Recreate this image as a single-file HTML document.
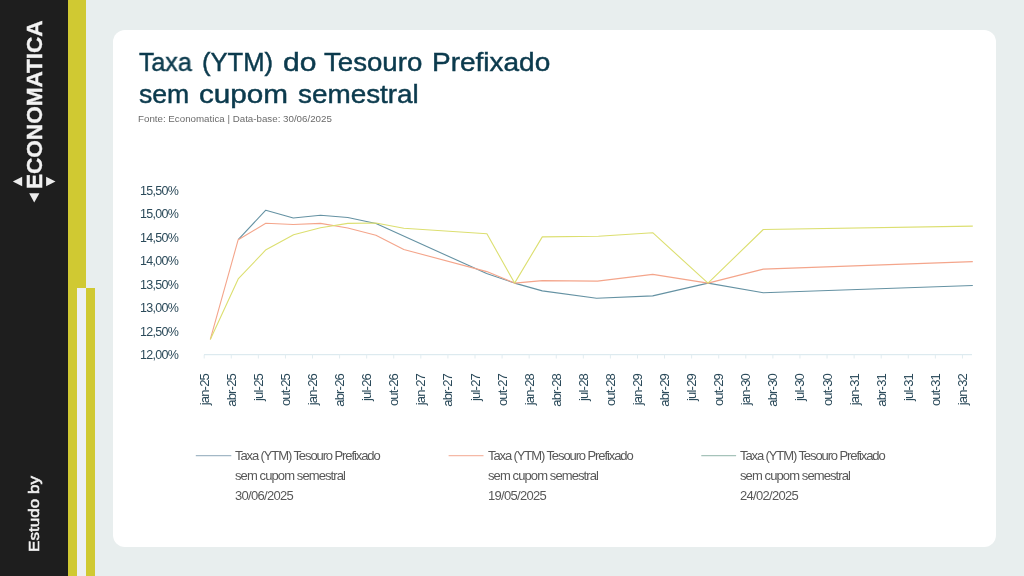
<!DOCTYPE html>
<html><head><meta charset="utf-8">
<style>
html,body{margin:0;padding:0;}
body{width:1024px;height:576px;overflow:hidden;background:#e8eeee;position:relative;font-family:"Liberation Sans",sans-serif;}
.abs{position:absolute;}
#side{left:0;top:0;width:68px;height:576px;background:#1e1e1e;}
.y{background:#d0c932;}
#card{left:112.7px;top:29.7px;width:883.6px;height:517.5px;background:#fff;border-radius:12px;}
.tw{will-change:transform;transform-origin:0 0;color:#0b3a4d;font-size:25.2px;letter-spacing:0px;white-space:nowrap;line-height:1;-webkit-text-stroke:0.45px #0b3a4d;}
#src{will-change:transform;color:#6b6b6b;font-size:9.75px;letter-spacing:0px;white-space:nowrap;line-height:1;}
.yl{will-change:transform;color:#2b4a5a;font-size:12.5px;letter-spacing:-0.7px;white-space:nowrap;line-height:1;left:139.6px;}
.xl{will-change:transform;width:60px;text-align:right;color:#2b4a5a;font-size:13px;letter-spacing:-0.8px;white-space:nowrap;line-height:1;transform-origin:0 0;transform:rotate(-90deg);}
.lg{will-change:transform;color:#585858;font-size:13px;letter-spacing:-0.7px;white-space:nowrap;line-height:20px;}
.rot{will-change:transform;transform-origin:0 0;transform:rotate(-90deg);white-space:nowrap;line-height:1;color:#f2f2f2;}
</style></head><body>
<div id="side" class="abs"></div>
<div class="abs y" style="left:68px;top:0;width:18.3px;height:288px"></div>
<div class="abs y" style="left:68px;top:288px;width:9.4px;height:288px"></div>
<div class="abs y" style="left:86.3px;top:288px;width:8.8px;height:288px"></div>
<div class="abs" style="left:77.4px;top:288px;width:8.9px;height:288px;background:#edf0f2"></div>
<div id="card" class="abs"></div>

<div id="logo" class="abs rot" style="left:23.3px;top:189px;font-weight:bold;-webkit-text-stroke:0.3px #f2f2f2;font-size:22.7px;letter-spacing:-0.1px;">ECONOMATICA</div>
<svg class="abs" style="left:0;top:0" width="68" height="576">
<polygon points="12.8,181.5 22.2,176.8 22.2,186.3" fill="#ececec"/>
<polygon points="55.5,181.5 46.1,176.8 46.1,186.3" fill="#ececec"/>
<polygon points="34.2,202.6 29.2,193.2 39.4,193.2" fill="#ececec"/>
</svg>
<div id="estudo" class="abs rot" style="transform:rotate(-90deg) scaleX(1.116);-webkit-text-stroke:0.5px #f2f2f2;left:25.8px;top:552.0px;font-size:15.3px;letter-spacing:0px;">Estudo by</div>

<div class="abs tw" style="left:138.90px;top:49.6px;transform:scaleX(0.9907)">Taxa</div>
<div class="abs tw" style="left:202.08px;top:49.6px;transform:scaleX(1.0162)">(YTM)</div>
<div class="abs tw" style="left:282.50px;top:49.6px;transform:scaleX(1.1929)">do</div>
<div class="abs tw" style="left:324.00px;top:49.6px;transform:scaleX(1.0966)">Tesouro</div>
<div class="abs tw" style="left:432.19px;top:49.6px;transform:scaleX(1.1114)">Prefixado</div>
<div class="abs tw" style="left:138.60px;top:81.8px;transform:scaleX(1.0553)">sem</div>
<div class="abs tw" style="left:198.92px;top:81.8px;transform:scaleX(1.1784)">cupom</div>
<div class="abs tw" style="left:298.10px;top:81.8px;transform:scaleX(1.1065)">semestral</div>
<div id="src" class="abs" style="left:137.8px;top:114px;">Fonte: Economatica | Data-base: 30/06/2025</div>

<div class="abs yl" style="top:184.50px">15,50%</div>
<div class="abs yl" style="top:207.50px">15,00%</div>
<div class="abs yl" style="top:231.50px">14,50%</div>
<div class="abs yl" style="top:254.50px">14,00%</div>
<div class="abs yl" style="top:278.50px">13,50%</div>
<div class="abs yl" style="top:301.50px">13,00%</div>
<div class="abs yl" style="top:325.50px">12,50%</div>
<div class="abs yl" style="top:348.50px">12,00%</div>
<div class="abs xl" style="left:197.70px;top:434.2px">jan-25</div>
<div class="abs xl" style="left:224.78px;top:434.2px">abr-25</div>
<div class="abs xl" style="left:251.86px;top:434.2px">jul-25</div>
<div class="abs xl" style="left:278.94px;top:434.2px">out-25</div>
<div class="abs xl" style="left:306.02px;top:434.2px">jan-26</div>
<div class="abs xl" style="left:333.10px;top:434.2px">abr-26</div>
<div class="abs xl" style="left:360.18px;top:434.2px">jul-26</div>
<div class="abs xl" style="left:387.26px;top:434.2px">out-26</div>
<div class="abs xl" style="left:414.34px;top:434.2px">jan-27</div>
<div class="abs xl" style="left:441.42px;top:434.2px">abr-27</div>
<div class="abs xl" style="left:468.50px;top:434.2px">jul-27</div>
<div class="abs xl" style="left:495.58px;top:434.2px">out-27</div>
<div class="abs xl" style="left:522.66px;top:434.2px">jan-28</div>
<div class="abs xl" style="left:549.74px;top:434.2px">abr-28</div>
<div class="abs xl" style="left:576.82px;top:434.2px">jul-28</div>
<div class="abs xl" style="left:603.90px;top:434.2px">out-28</div>
<div class="abs xl" style="left:630.98px;top:434.2px">jan-29</div>
<div class="abs xl" style="left:658.06px;top:434.2px">abr-29</div>
<div class="abs xl" style="left:685.14px;top:434.2px">jul-29</div>
<div class="abs xl" style="left:712.22px;top:434.2px">out-29</div>
<div class="abs xl" style="left:739.30px;top:434.2px">jan-30</div>
<div class="abs xl" style="left:766.38px;top:434.2px">abr-30</div>
<div class="abs xl" style="left:793.46px;top:434.2px">jul-30</div>
<div class="abs xl" style="left:820.54px;top:434.2px">out-30</div>
<div class="abs xl" style="left:847.62px;top:434.2px">jan-31</div>
<div class="abs xl" style="left:874.70px;top:434.2px">abr-31</div>
<div class="abs xl" style="left:901.78px;top:434.2px">jul-31</div>
<div class="abs xl" style="left:928.86px;top:434.2px">out-31</div>
<div class="abs xl" style="left:955.94px;top:434.2px">jan-32</div>

<svg class="abs" style="left:0;top:0" width="1024" height="576" id="chart">
<g id="axis" stroke="#d6e6ec" stroke-width="1" fill="none"><line x1="204" y1="354.7" x2="972" y2="354.7"/><line x1="204.20" y1="354.7" x2="204.20" y2="358.5" stroke="#e2edf1"/><line x1="231.28" y1="354.7" x2="231.28" y2="358.5" stroke="#e2edf1"/><line x1="258.36" y1="354.7" x2="258.36" y2="358.5" stroke="#e2edf1"/><line x1="285.44" y1="354.7" x2="285.44" y2="358.5" stroke="#e2edf1"/><line x1="312.52" y1="354.7" x2="312.52" y2="358.5" stroke="#e2edf1"/><line x1="339.60" y1="354.7" x2="339.60" y2="358.5" stroke="#e2edf1"/><line x1="366.68" y1="354.7" x2="366.68" y2="358.5" stroke="#e2edf1"/><line x1="393.76" y1="354.7" x2="393.76" y2="358.5" stroke="#e2edf1"/><line x1="420.84" y1="354.7" x2="420.84" y2="358.5" stroke="#e2edf1"/><line x1="447.92" y1="354.7" x2="447.92" y2="358.5" stroke="#e2edf1"/><line x1="475.00" y1="354.7" x2="475.00" y2="358.5" stroke="#e2edf1"/><line x1="502.08" y1="354.7" x2="502.08" y2="358.5" stroke="#e2edf1"/><line x1="529.16" y1="354.7" x2="529.16" y2="358.5" stroke="#e2edf1"/><line x1="556.24" y1="354.7" x2="556.24" y2="358.5" stroke="#e2edf1"/><line x1="583.32" y1="354.7" x2="583.32" y2="358.5" stroke="#e2edf1"/><line x1="610.40" y1="354.7" x2="610.40" y2="358.5" stroke="#e2edf1"/><line x1="637.48" y1="354.7" x2="637.48" y2="358.5" stroke="#e2edf1"/><line x1="664.56" y1="354.7" x2="664.56" y2="358.5" stroke="#e2edf1"/><line x1="691.64" y1="354.7" x2="691.64" y2="358.5" stroke="#e2edf1"/><line x1="718.72" y1="354.7" x2="718.72" y2="358.5" stroke="#e2edf1"/><line x1="745.80" y1="354.7" x2="745.80" y2="358.5" stroke="#e2edf1"/><line x1="772.88" y1="354.7" x2="772.88" y2="358.5" stroke="#e2edf1"/><line x1="799.96" y1="354.7" x2="799.96" y2="358.5" stroke="#e2edf1"/><line x1="827.04" y1="354.7" x2="827.04" y2="358.5" stroke="#e2edf1"/><line x1="854.12" y1="354.7" x2="854.12" y2="358.5" stroke="#e2edf1"/><line x1="881.20" y1="354.7" x2="881.20" y2="358.5" stroke="#e2edf1"/><line x1="908.28" y1="354.7" x2="908.28" y2="358.5" stroke="#e2edf1"/><line x1="935.36" y1="354.7" x2="935.36" y2="358.5" stroke="#e2edf1"/><line x1="962.44" y1="354.7" x2="962.44" y2="358.5" stroke="#e2edf1"/></g>
<polyline fill="none" stroke="#6592a3" stroke-width="1.1" stroke-linejoin="round" points="238.2,239.7 265.8,210.2 293.3,218 320.5,215.3 347.8,217.5 376,223.5 486.6,273.6 514.6,283.1 542.3,290.9 596.6,298.3 652.7,295.9 708,283.1 763.3,292.8 972.8,285.5"/>
<polyline fill="none" stroke="#f4a58b" stroke-width="1.1" stroke-linejoin="round" points="210.3,339.3 238.2,239.7 265.8,223.3 293.3,224.5 320.5,223.4 347.8,228 375.9,235.2 403.8,249.5 486.8,271.6 514.6,283.1 542.3,280.6 597.5,281.1 652.7,274.4 708,283.1 763.3,269.1 972.8,261.6"/>
<polyline fill="none" stroke="#dcdf70" stroke-width="1.1" stroke-linejoin="round" points="210.3,339.5 238.2,278.9 266,249.7 293.6,234.7 320.5,227.7 347.8,223.4 375.9,223 403.8,228.3 486.9,233.7 514.6,283.1 542.3,236.9 598.5,236.25 652.7,232.7 708,283.1 763.3,229.5 972.8,226.1"/>
<g stroke-width="1.3">
<line x1="195.8" y1="455.7" x2="231.3" y2="455.7" stroke="#a3b8c6"/>
<line x1="448.6" y1="455.7" x2="483.5" y2="455.7" stroke="#f5b9a6"/>
<line x1="701.3" y1="455.7" x2="736.1" y2="455.7" stroke="#a6c3ba"/>
</g>
</svg>

<div class="abs lg" style="left:235.1px;top:446px;"><span style="letter-spacing:-1.1px">Taxa (YTM) Tesouro Prefixado</span><br><span style="letter-spacing:-0.9px">sem cupom semestral</span><br>30/06/2025</div>
<div class="abs lg" style="left:488px;top:446px;"><span style="letter-spacing:-1.1px">Taxa (YTM) Tesouro Prefixado</span><br><span style="letter-spacing:-0.9px">sem cupom semestral</span><br>19/05/2025</div>
<div class="abs lg" style="left:740.3px;top:446px;"><span style="letter-spacing:-1.1px">Taxa (YTM) Tesouro Prefixado</span><br><span style="letter-spacing:-0.9px">sem cupom semestral</span><br>24/02/2025</div>
</body></html>
